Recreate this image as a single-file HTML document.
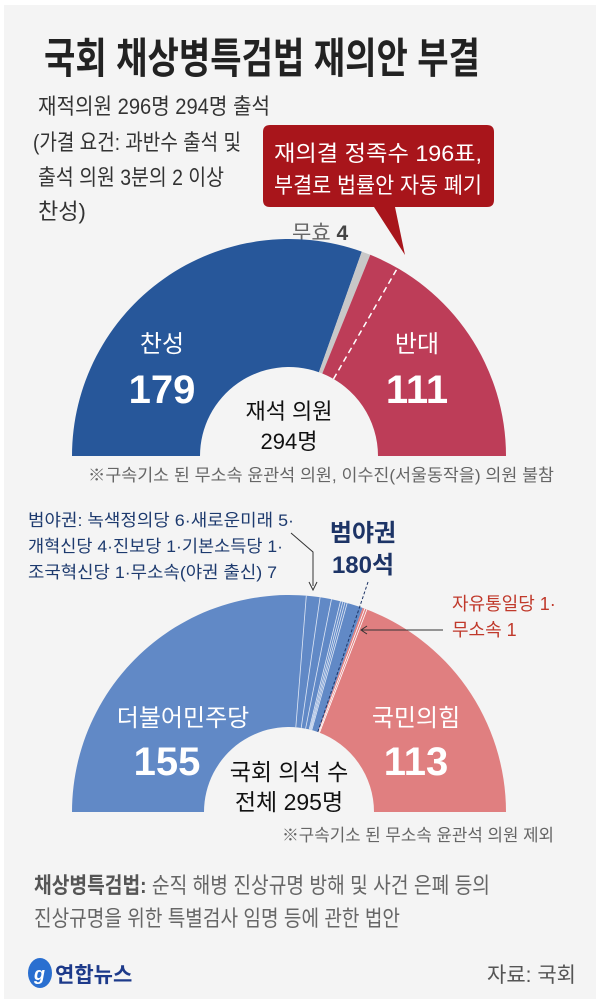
<!DOCTYPE html>
<html><head><meta charset="utf-8"><style>
html,body{margin:0;padding:0;background:#fff;}
svg{display:block;}
text{font-family:"Liberation Sans","Noto Sans CJK KR",sans-serif;}
</style></head><body>
<svg width="600" height="1003" viewBox="0 0 600 1003" xmlns="http://www.w3.org/2000/svg">
<rect x="4" y="5" width="592" height="994" fill="#f4f4f4"/>
<text x="44" y="73" font-size="42" font-weight="bold" fill="#222" textLength="436" lengthAdjust="spacingAndGlyphs">국회 채상병특검법 재의안 부결</text>
<g font-size="22" fill="#333">
<text x="38" y="114" textLength="232" lengthAdjust="spacingAndGlyphs">재적의원 296명 294명 출석</text>
<text x="33" y="150" textLength="208" lengthAdjust="spacingAndGlyphs">(가결 요건: 과반수 출석 및</text>
<text x="38" y="185" textLength="186" lengthAdjust="spacingAndGlyphs">출석 의원 3분의 2 이상</text>
<text x="38" y="219">찬성)</text>
</g>
<path d="M270,125 H487 Q494,125 494,132 V200 Q494,207 487,207 H395 L405,255 L374,207 H270 Q263,207 263,200 V132 Q263,125 270,125 Z" fill="#a8151b"/>
<g font-size="22" fill="#fff" text-anchor="middle">
<text x="378" y="161" textLength="208" lengthAdjust="spacingAndGlyphs">재의결 정족수 196표,</text>
<text x="378" y="193" textLength="208" lengthAdjust="spacingAndGlyphs">부결로 법률안 자동 폐기</text>
</g>
<text x="292" y="240" font-size="21" fill="#666">무효 <tspan font-weight="bold" fill="#444">4</tspan></text>
<path d="M72,456 A217 217 0 0 1 361.8,251.6 L318.9,372.2 A89 89 0 0 0 200,456 Z" fill="#27579a"/>
<path d="M361.8,251.6 A217 217 0 0 1 370.3,254.8 L322.3,373.5 A89 89 0 0 0 318.9,372.2 Z" fill="#c8c8c8"/>
<path d="M370.3,254.8 A217 217 0 0 1 506,456 L378,456 A89 89 0 0 0 322.3,373.5 Z" fill="#bd3d58"/>
<line x1="333.5" y1="379" x2="397.5" y2="268" stroke="#fff" stroke-width="1.5" stroke-dasharray="6,4"/>
<g fill="#fff" text-anchor="middle">
<text x="162" y="352" font-size="24">찬성</text>
<text x="162" y="403" font-size="40" font-weight="bold">179</text>
<text x="417" y="352" font-size="24">반대</text>
<text x="417" y="403" font-size="40" font-weight="bold">111</text>
</g>
<g fill="#111" text-anchor="middle" font-size="22">
<text x="289" y="419">재석 의원</text>
<text x="289" y="449">294명</text>
</g>
<text x="88" y="481" font-size="17" fill="#666" textLength="466" lengthAdjust="spacingAndGlyphs">※구속기소 된 무소속 윤관석 의원, 이수진(서울동작을) 의원 불참</text>
<g font-size="17" fill="#1d3a6e">
<text x="28" y="526" textLength="266" lengthAdjust="spacingAndGlyphs">범야권: 녹색정의당 6·새로운미래 5·</text>
<text x="28" y="552" textLength="255" lengthAdjust="spacingAndGlyphs">개혁신당 4·진보당 1·기본소득당 1·</text>
<text x="28" y="578" textLength="249" lengthAdjust="spacingAndGlyphs">조국혁신당 1·무소속(야권 출신) 7</text>
</g>
<polyline points="291,533 313,552 313,586" fill="none" stroke="#333" stroke-width="1"/>
<path d="M309,582 L313,590 L317,582" fill="none" stroke="#333" stroke-width="1"/>
<g font-size="24" font-weight="bold" fill="#1d3466" text-anchor="middle">
<text x="363" y="541">범야권</text>
<text x="363" y="573">180석</text>
</g>
<g font-size="18" fill="#c0392b">
<text x="452" y="610">자유통일당 1·</text>
<text x="452" y="636">무소속 1</text>
</g>
<path d="M72,812 A217 217 0 0 1 362.6,607.9 L317.8,732.0 A85 85 0 0 0 204,812 Z" fill="#6189c6"/>
<path d="M362.6,607.9 A217 217 0 0 1 506,812 L374,812 A85 85 0 0 0 317.8,732.0 Z" fill="#e07f80"/>
<g stroke="#dfe7f5" stroke-width="0.8">
<line x1="306.3" y1="595.7" x2="295.8" y2="727.3"/>
<line x1="320.1" y1="597.2" x2="301.2" y2="727.9"/>
<line x1="331.5" y1="599.2" x2="305.6" y2="728.6"/>
<line x1="340.5" y1="601.2" x2="309.2" y2="729.4"/>
<line x1="342.8" y1="601.8" x2="310.1" y2="729.7"/>
<line x1="345.0" y1="602.3" x2="310.9" y2="729.9"/>
<line x1="347.2" y1="602.9" x2="311.8" y2="730.1"/>
</g>
<g stroke="#fff" stroke-width="0.8">
<line x1="364.8" y1="608.7" x2="318.6" y2="732.3"/>
<line x1="366.9" y1="609.5" x2="319.5" y2="732.7"/>
</g>
<line x1="368" y1="582" x2="317.8" y2="732" stroke="#1d3466" stroke-width="1" stroke-dasharray="3,2"/>
<line x1="443" y1="630" x2="362" y2="630" stroke="#333" stroke-width="1"/>
<path d="M367,626 L361,630 L367,634" fill="none" stroke="#333" stroke-width="1"/>
<g fill="#fff" text-anchor="middle">
<text x="183" y="726" font-size="24">더불어민주당</text>
<text x="167" y="775" font-size="40" font-weight="bold">155</text>
<text x="416" y="726" font-size="24">국민의힘</text>
<text x="416" y="775" font-size="40" font-weight="bold">113</text>
</g>
<g fill="#111" text-anchor="middle" font-size="23">
<text x="289" y="780">국회 의석 수</text>
<text x="289" y="810">전체 295명</text>
</g>
<text x="282" y="841" font-size="17" fill="#666" textLength="272" lengthAdjust="spacingAndGlyphs">※구속기소 된 무소속 윤관석 의원 제외</text>
<g font-size="22" fill="#666">
<text x="34" y="893" textLength="456" lengthAdjust="spacingAndGlyphs"><tspan font-weight="bold" fill="#555">채상병특검법:</tspan> 순직 해병 진상규명 방해 및 사건 은폐 등의</text>
<text x="34" y="926" textLength="366" lengthAdjust="spacingAndGlyphs">진상규명을 위한 특별검사 임명 등에 관한 법안</text>
</g>
<ellipse cx="40" cy="973" rx="12" ry="15" fill="#2a6fd0"/>
<text x="34" y="980" font-size="18" font-style="italic" font-weight="bold" fill="#fff">g</text>
<text x="55" y="982" font-size="21" font-weight="bold" fill="#1d3a8a">연합뉴스</text>
<text x="576" y="982" text-anchor="end" font-size="21" fill="#555">자료: 국회</text>
</svg>
</body></html>
